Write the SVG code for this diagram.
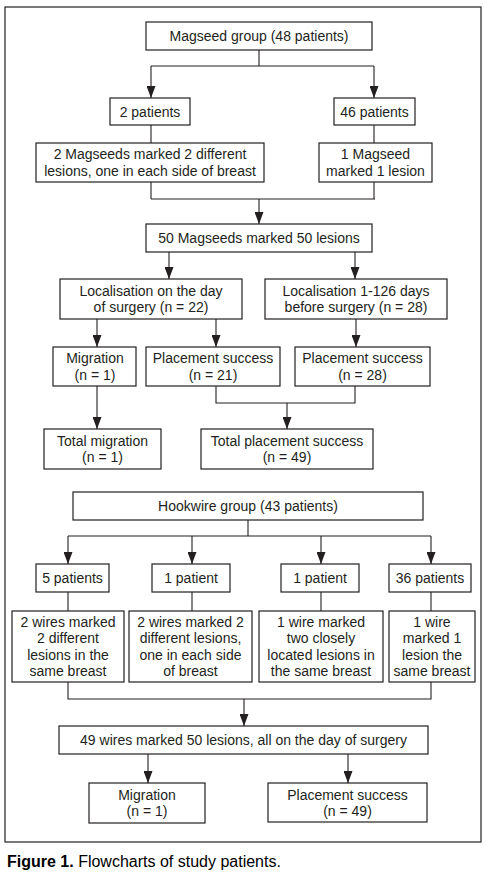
<svg xmlns="http://www.w3.org/2000/svg" width="486" height="876" viewBox="0 0 486 876">
<defs>
<style>
rect.box{fill:#fff;stroke:#231f20;stroke-width:1.2}
text{font-family:"Liberation Sans",Arial,sans-serif;font-size:14px;fill:#231f20;text-anchor:middle}
.cn path{fill:none;stroke:#231f20;stroke-width:1.1}
.ar{marker-end:url(#ah)}
</style>
<marker id="ah" viewBox="0 0 12 9" refX="12" refY="4.5" markerWidth="12" markerHeight="9" markerUnits="userSpaceOnUse" orient="auto">
<path d="M0,0 L12,4.5 L0,9 z" fill="#231f20"/>
</marker>
</defs>
<rect x="0" y="0" width="486" height="876" fill="#fff"/>
<rect x="5" y="7" width="476" height="835" fill="none" stroke="#231f20" stroke-width="1.2"/>

<g class="cn" id="connectors">
<path d="M259,50 V66 M151,66 H374"/>
<path class="ar" d="M151,66 V98"/>
<path class="ar" d="M374,66 V98"/>
<path d="M151,125 V143 M374,125 V143"/>
<path d="M151,182 V199 M374,182 V199 M151,199 H375"/>
<path class="ar" d="M259,199 V224"/>
<path class="ar" d="M169,252 V279"/>
<path class="ar" d="M355,252 V279"/>
<path class="ar" d="M97,319 V347"/>
<path class="ar" d="M216,319 V347"/>
<path class="ar" d="M356,319 V347"/>
<path class="ar" d="M97,386 V429"/>
<path d="M216,386 V403 H355 V386"/>
<path class="ar" d="M287,403 V429"/>
<path d="M248,520 V536 M68,536 H431"/>
<path class="ar" d="M68,536 V564"/>
<path class="ar" d="M192,536 V564"/>
<path class="ar" d="M321,536 V564"/>
<path class="ar" d="M431,536 V564"/>
<path d="M68,592 V611 M192,592 V611 M321,592 V611 M431,592 V611"/>
<path d="M68,682 V699 H431 V682"/>
<path class="ar" d="M244,699 V726"/>
<path class="ar" d="M148,754 V783"/>
<path class="ar" d="M348,754 V783"/>
</g>

<g id="m_group"><rect class="box" x="146" y="22" width="226" height="28"/><text x="259" y="41">Magseed group (48 patients)</text></g>
<g id="m_2p"><rect class="box" x="110" y="98" width="80" height="27"/><text x="150" y="116.5">2 patients</text></g>
<g id="m_46p"><rect class="box" x="334" y="98" width="81" height="27"/><text x="374.5" y="116.5">46 patients</text></g>
<g id="m_2seeds"><rect class="box" x="36" y="143" width="228" height="39"/><text x="150" y="159.3">2 Magseeds marked 2 different</text><text x="150" y="175.8">lesions, one in each side of breast</text></g>
<g id="m_1seed"><rect class="box" x="319" y="143" width="113" height="39"/><text x="375.5" y="159.3">1 Magseed</text><text x="375.5" y="175.8">marked 1 lesion</text></g>
<g id="m_50"><rect class="box" x="146" y="224" width="226" height="28"/><text x="259" y="243">50 Magseeds marked 50 lesions</text></g>
<g id="m_day"><rect class="box" x="60" y="279" width="182" height="40"/><text x="151" y="295.8">Localisation on the day</text><text x="151" y="312.3">of surgery (n = 22)</text></g>
<g id="m_before"><rect class="box" x="265" y="279" width="182" height="40"/><text x="356" y="295.8">Localisation 1-126 days</text><text x="356" y="312.3">before surgery (n = 28)</text></g>
<g id="m_mig"><rect class="box" x="53" y="347" width="83" height="39"/><text x="95" y="363">Migration</text><text x="95" y="379.5">(n = 1)</text></g>
<g id="m_ps21"><rect class="box" x="146" y="347" width="134" height="39"/><text x="213" y="363">Placement success</text><text x="213" y="379.5">(n = 21)</text></g>
<g id="m_ps28"><rect class="box" x="295" y="347" width="135" height="39"/><text x="362.5" y="363">Placement success</text><text x="362.5" y="379.5">(n = 28)</text></g>
<g id="m_totmig"><rect class="box" x="44" y="429" width="117" height="40"/><text x="102.5" y="445.8">Total migration</text><text x="102.5" y="462.3">(n = 1)</text></g>
<g id="m_totps"><rect class="box" x="201" y="429" width="172" height="40"/><text x="287" y="445.8">Total placement success</text><text x="287" y="462.3">(n = 49)</text></g>

<g id="h_group"><rect class="box" x="73" y="492" width="350" height="28"/><text x="248" y="511">Hookwire group (43 patients)</text></g>
<g id="h_5p"><rect class="box" x="36" y="564" width="73" height="28"/><text x="72.5" y="583">5 patients</text></g>
<g id="h_1pa"><rect class="box" x="152" y="564" width="78" height="28"/><text x="191" y="583">1 patient</text></g>
<g id="h_1pb"><rect class="box" x="281" y="564" width="78" height="28"/><text x="320" y="583">1 patient</text></g>
<g id="h_36p"><rect class="box" x="389" y="564" width="82" height="28"/><text x="430" y="583">36 patients</text></g>
<g id="h_b1"><rect class="box" x="12" y="611" width="112" height="71"/><text x="68" y="627">2 wires marked</text><text x="68" y="643.3">2 different</text><text x="68" y="659.6">lesions in the</text><text x="68" y="675.9">same breast</text></g>
<g id="h_b2"><rect class="box" x="129" y="611" width="123" height="71"/><text x="190.5" y="627">2 wires marked 2</text><text x="190.5" y="643.3">different lesions,</text><text x="190.5" y="659.6">one in each side</text><text x="190.5" y="675.9">of breast</text></g>
<g id="h_b3"><rect class="box" x="259" y="611" width="124" height="71"/><text x="321" y="627">1 wire marked</text><text x="321" y="643.3">two closely</text><text x="321" y="659.6">located lesions in</text><text x="321" y="675.9">the same breast</text></g>
<g id="h_b4"><rect class="box" x="389" y="611" width="86" height="71"/><text x="432" y="627">1 wire</text><text x="432" y="643.3">marked 1</text><text x="432" y="659.6">lesion the</text><text x="432" y="675.9">same breast</text></g>
<g id="h_49"><rect class="box" x="59" y="726" width="369" height="28"/><text x="243.5" y="745">49 wires marked 50 lesions, all on the day of surgery</text></g>
<g id="h_mig"><rect class="box" x="89" y="783" width="116" height="40"/><text x="147" y="799.8">Migration</text><text x="147" y="816.3">(n = 1)</text></g>
<g id="h_ps"><rect class="box" x="268" y="783" width="159" height="39"/><text x="347.5" y="799.5">Placement success</text><text x="347.5" y="816">(n = 49)</text></g>

<text x="7" y="867" style="text-anchor:start;font-size:16px;fill:#000"><tspan font-weight="bold">Figure 1.</tspan> Flowcharts of study patients.</text>
</svg>
